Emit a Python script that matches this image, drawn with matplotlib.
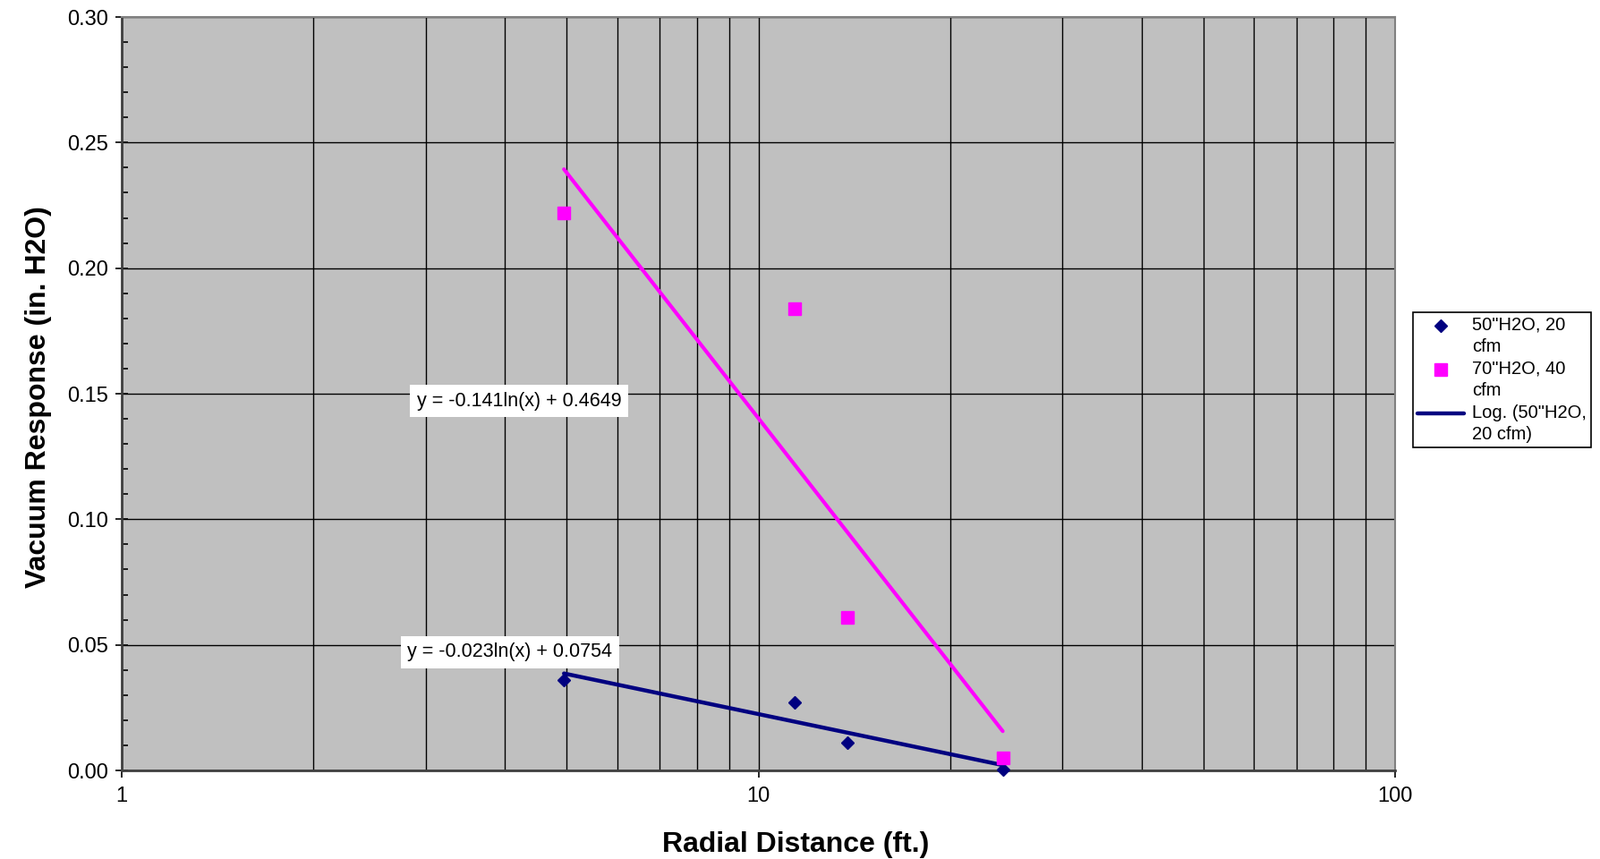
import numpy as np
import matplotlib
matplotlib.use("Agg")
import matplotlib.pyplot as plt
from matplotlib.legend_handler import HandlerLine2D
from matplotlib.ticker import FixedLocator, LogLocator, NullFormatter, MultipleLocator, FormatStrFormatter

plt.rcParams['font.family'] = ['Liberation Sans', 'DejaVu Sans']

# --- data ---
distance = [4.95, 11.4, 13.8, 24.2]
vac_50_20 = [0.036, 0.027, 0.011, 0.0004]
vac_70_40 = [0.222, 0.184, 0.061, 0.005]

# log trendline coefficients (y = a ln(x) + b), as labelled
fit_50_20 = (-0.023, 0.0754)
fit_70_40 = (-0.141, 0.4649)

label_50 = '50"H2O, 20\ncfm'
label_70 = '70"H2O, 40\ncfm'
label_fit = 'Log. (50"H2O,\n20 cfm)'

navy = "#000080"
magenta = "#FF00FF"


class FirstLineHandler(HandlerLine2D):
    # put the legend key level with the first line of a two-line label
    def __init__(self, shift, **kw):
        super().__init__(**kw)
        self.shift = shift

    def create_artists(self, legend, orig_handle, xdescent, ydescent, width, height, fontsize, trans):
        arts = super().create_artists(legend, orig_handle, xdescent, ydescent, width, height, fontsize, trans)
        for a in arts:
            a.set_ydata(np.asarray(a.get_ydata(), dtype=float) + self.shift)
        return arts


fig = plt.figure(figsize=(17.88, 9.6), dpi=100)
ax = fig.add_axes([0.0761, 0.1031, 0.7958, 0.8771])
ax.set_facecolor("#C0C0C0")

# trend lines over the data range
xs = np.linspace(min(distance), max(distance), 100)
ax.plot(xs, fit_70_40[0] * np.log(xs) + fit_70_40[1], color=magenta, lw=3,
        solid_capstyle="round", zorder=3)
line_fit, = ax.plot(xs, fit_50_20[0] * np.log(xs) + fit_50_20[1], color=navy, lw=3.2,
                    solid_capstyle="round", zorder=3, label=label_fit)

# data points
p50, = ax.plot(distance, vac_50_20, linestyle="none", marker="D", ms=7.5, color=navy,
               zorder=4, label=label_50, clip_on=False)
p70, = ax.plot(distance, vac_70_40, linestyle="none", marker="s", ms=10.5, color=magenta,
               zorder=4, label=label_70, clip_on=False)

# axes
ax.set_xscale("log")
ax.set_xlim(1, 100)
ax.set_ylim(0, 0.30)
ax.xaxis.set_major_locator(FixedLocator([1, 10, 100]))
ax.xaxis.set_major_formatter(FormatStrFormatter("%g"))
ax.xaxis.set_minor_locator(LogLocator(base=10, subs=np.arange(2, 10)))
ax.xaxis.set_minor_formatter(NullFormatter())
ax.yaxis.set_major_locator(MultipleLocator(0.05))
ax.yaxis.set_minor_locator(MultipleLocator(0.01))
ax.yaxis.set_major_formatter(FormatStrFormatter("%.2f"))

ax.grid(which="both", axis="x", color="black", lw=1.0)
ax.grid(which="major", axis="y", color="black", lw=1.0)
ax.set_axisbelow(True)

ax.tick_params(axis="y", which="major", direction="inout", length=10, width=1.2,
               labelsize=17, pad=6)
ax.tick_params(axis="y", which="minor", direction="in", length=5, width=1.2)
ax.tick_params(axis="x", which="major", direction="out", length=6, width=1.2,
               labelsize=17, pad=7)
ax.tick_params(axis="x", which="minor", length=0)

for side in ["top", "right"]:
    ax.spines[side].set_color("#808080")
    ax.spines[side].set_linewidth(1.5)
for side in ["left", "bottom"]:
    ax.spines[side].set_color("#404040")
    ax.spines[side].set_linewidth(2)

ax.set_xlabel("Radial Distance (ft.)", fontsize=23, fontweight="bold", labelpad=20)
ax.xaxis.label.set_x(0.5296)
ax.set_ylabel("Vacuum Response (in. H2O)", fontsize=23, fontweight="bold", labelpad=12)
ax.yaxis.label.set_y(0.496)

# equation labels
box = dict(boxstyle="square,pad=0.35", facecolor="white", edgecolor="none")
ax.text(4.21, 0.147, "y = -0.141ln(x) + 0.4649", fontsize=15.5, ha="center", va="center",
        bbox=box, zorder=5)
ax.text(4.07, 0.0472, "y = -0.023ln(x) + 0.0754", fontsize=15.5, ha="center", va="center",
        bbox=box, zorder=5)

shift = 8.5
leg = ax.legend(handles=[p50, p70, line_fit], loc="upper left",
                bbox_to_anchor=(0.8831, 0.6365), bbox_transform=fig.transFigure,
                borderaxespad=0, fontsize=14.5, frameon=True, fancybox=False,
                edgecolor="black", framealpha=1, handlelength=2.6, handletextpad=0.42,
                labelspacing=0.28, borderpad=0.25,
                handler_map={p50: FirstLineHandler(shift), p70: FirstLineHandler(shift),
                             line_fit: FirstLineHandler(shift)})
leg.get_frame().set_linewidth(1.2)
for t in leg.get_texts():
    t.set_linespacing(1.35)

fig.savefig("out.png", dpi=100)
